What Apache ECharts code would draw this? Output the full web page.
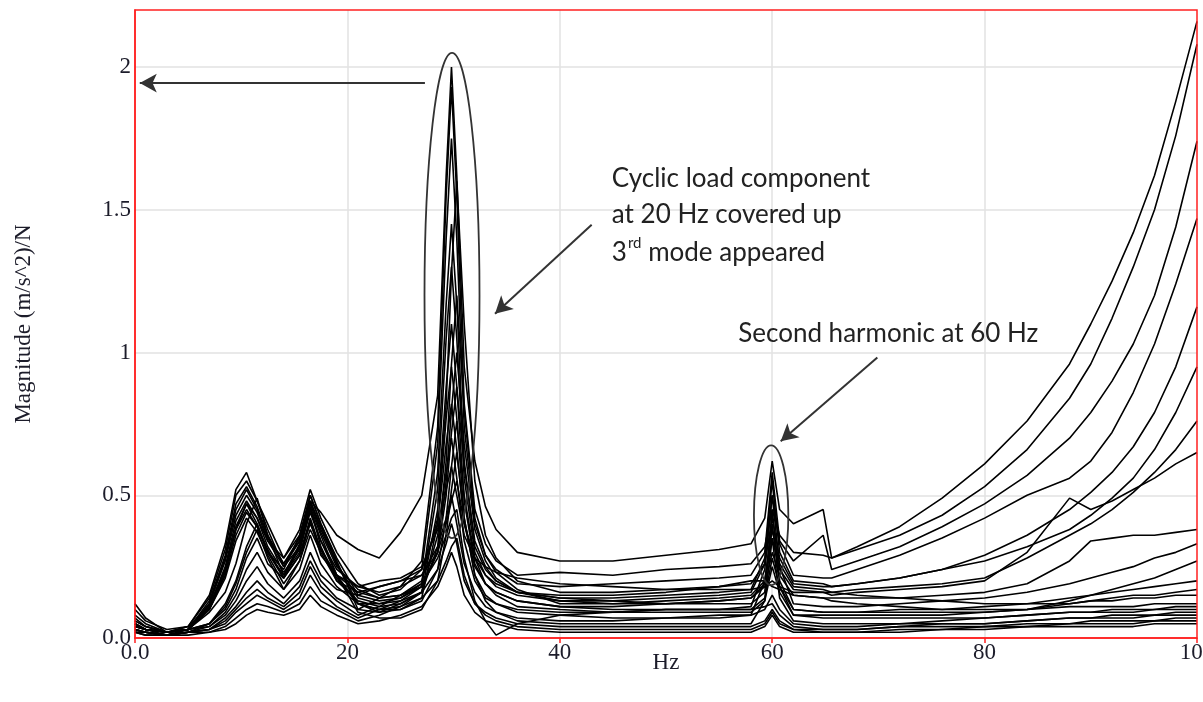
<!DOCTYPE html>
<html>
<head>
<meta charset="utf-8">
<script src="https://cdn.jsdelivr.net/npm/echarts@6/dist/echarts.min.js"></script>
<style>html,body{margin:0;padding:0;background:#fff}#c{width:1203px;height:702px}</style>
</head>
<body>
<div id="c"></div>
<script>
// Frequency grid (Hz) shared by all response curves
const freqHz = [0,1,3,5,7, 8.5,9.5,10.5,11.5,12.5, 14,15.5,16.5,17.5,19, 21,23,25,27,28.5, 29.3,29.8,30.3,31,32, 33,34,36,40,45, 50,55,58,59.3,60, 60.7,62,64.8,65.6,68, 72,76,80,84,88, 90,92,94,96,98, 100];

// Magnitude values (m/s^2)/N, one array per measured curve
const c1  = [0.10,0.06,0.03,0.04,0.11, 0.24,0.38,0.47,0.42,0.34, 0.28,0.36,0.48,0.44,0.36, 0.31,0.28,0.37,0.50,0.85, 1.62,2.00,1.62,0.95,0.62, 0.46,0.38,0.30,0.27,0.27, 0.29,0.31,0.33,0.42,0.62, 0.45,0.40,0.45,0.28,0.31, 0.36,0.43,0.53,0.66,0.84, 0.96,1.12,1.30,1.50,1.76, 2.08];
const c2  = [0.12,0.07,0.02,0.04,0.15, 0.33,0.52,0.58,0.48,0.38, 0.25,0.32,0.45,0.34,0.24, 0.18,0.16,0.18,0.27,0.74, 1.55,1.93,1.55,0.82,0.45, 0.33,0.27,0.22,0.23,0.22, 0.24,0.25,0.26,0.32,0.45, 0.36,0.30,0.29,0.28,0.32, 0.39,0.49,0.61,0.76,0.96, 1.10,1.25,1.42,1.62,1.88, 2.16];
const c3  = [0.08,0.05,0.02,0.04,0.14, 0.31,0.50,0.55,0.48,0.40, 0.28,0.38,0.52,0.42,0.30, 0.19,0.15,0.17,0.24,0.68, 1.40,1.75,1.40,0.74,0.40, 0.29,0.24,0.19,0.18,0.19, 0.20,0.21,0.22,0.30,0.58, 0.34,0.27,0.36,0.24,0.27, 0.32,0.39,0.47,0.57,0.70, 0.79,0.90,1.03,1.20,1.44, 1.74];
const c4  = [0.06,0.04,0.02,0.03,0.13, 0.29,0.47,0.53,0.46,0.36, 0.26,0.34,0.47,0.37,0.25, 0.17,0.14,0.15,0.20,0.42, 0.82,1.28,1.60,1.10,0.55, 0.36,0.28,0.20,0.16,0.16, 0.17,0.18,0.19,0.26,0.50, 0.33,0.22,0.21,0.21,0.24, 0.29,0.35,0.42,0.50,0.56, 0.62,0.72,0.86,1.03,1.24, 1.47];
const c5  = [0.05,0.03,0.02,0.03,0.12, 0.28,0.45,0.52,0.45,0.35, 0.26,0.35,0.50,0.40,0.28, 0.15,0.13,0.14,0.19,0.58, 1.17,1.45,1.17,0.62,0.32, 0.24,0.20,0.16,0.14,0.14, 0.15,0.16,0.17,0.28,0.55, 0.30,0.20,0.19,0.18,0.19, 0.21,0.24,0.29,0.36,0.45, 0.51,0.58,0.67,0.79,0.95, 1.16];
const c6  = [0.04,0.03,0.01,0.03,0.12, 0.27,0.43,0.50,0.44,0.34, 0.25,0.34,0.48,0.39,0.26, 0.14,0.12,0.13,0.18,0.52, 1.05,1.30,1.05,0.56,0.30, 0.22,0.18,0.15,0.13,0.13, 0.14,0.15,0.16,0.26,0.42, 0.28,0.19,0.18,0.18,0.19, 0.21,0.24,0.27,0.32,0.38, 0.43,0.49,0.56,0.66,0.79, 0.95];
const c7  = [0.05,0.03,0.02,0.03,0.09, 0.16,0.26,0.40,0.49,0.36, 0.22,0.30,0.46,0.32,0.20, 0.13,0.11,0.12,0.16,0.32, 0.62,0.96,1.20,0.80,0.42, 0.29,0.23,0.17,0.12,0.12, 0.13,0.14,0.15,0.20,0.38, 0.26,0.18,0.17,0.16,0.17, 0.18,0.19,0.21,0.28,0.36, 0.40,0.45,0.51,0.58,0.66, 0.76];
const c8  = [0.07,0.04,0.02,0.03,0.11, 0.25,0.41,0.48,0.42,0.32, 0.23,0.31,0.44,0.34,0.22, 0.12,0.10,0.11,0.16,0.45, 0.88,1.10,0.88,0.48,0.26, 0.19,0.16,0.13,0.11,0.11, 0.12,0.13,0.14,0.19,0.35, 0.24,0.17,0.16,0.15,0.16, 0.17,0.18,0.20,0.30,0.49, 0.45,0.48,0.52,0.56,0.61, 0.65];
const c9  = [0.04,0.03,0.02,0.03,0.11, 0.24,0.39,0.47,0.40,0.30, 0.21,0.29,0.42,0.31,0.21, 0.12,0.12,0.14,0.18,0.30, 0.55,0.80,1.00,0.68,0.38, 0.27,0.21,0.16,0.13,0.12, 0.12,0.13,0.14,0.18,0.30, 0.22,0.15,0.14,0.14,0.14, 0.14,0.15,0.16,0.19,0.27, 0.34,0.35,0.36,0.36,0.37, 0.38];
const c10 = [0.03,0.02,0.01,0.03,0.10, 0.23,0.38,0.45,0.39,0.30, 0.24,0.36,0.50,0.40,0.27, 0.10,0.09,0.10,0.14,0.40, 0.77,0.95,0.77,0.42,0.22, 0.15,0.12,0.10,0.09,0.09, 0.10,0.10,0.11,0.24,0.50, 0.25,0.12,0.11,0.11,0.11, 0.12,0.13,0.14,0.16,0.19, 0.21,0.23,0.25,0.28,0.30, 0.33];
const c11 = [0.05,0.03,0.02,0.03,0.10, 0.22,0.36,0.44,0.39,0.31, 0.21,0.29,0.40,0.31,0.22, 0.16,0.14,0.15,0.18,0.30, 0.50,0.72,0.88,0.60,0.34, 0.25,0.20,0.16,0.14,0.13, 0.12,0.12,0.12,0.16,0.45, 0.20,0.10,0.09,0.09,0.09, 0.09,0.09,0.09,0.10,0.13, 0.15,0.17,0.19,0.21,0.24, 0.27];
const c12 = [0.06,0.04,0.02,0.03,0.10, 0.21,0.34,0.42,0.37,0.29, 0.19,0.27,0.38,0.30,0.20, 0.16,0.18,0.20,0.24,0.40, 0.68,0.82,0.66,0.40,0.25, 0.19,0.16,0.13,0.11,0.10, 0.10,0.10,0.10,0.14,0.28, 0.18,0.10,0.09,0.09,0.09, 0.10,0.10,0.11,0.12,0.14, 0.15,0.16,0.17,0.18,0.19, 0.20];
const c13 = [0.03,0.02,0.01,0.02,0.05, 0.12,0.20,0.32,0.40,0.30, 0.22,0.33,0.48,0.38,0.26, 0.12,0.10,0.10,0.13,0.24, 0.42,0.60,0.76,0.50,0.28, 0.19,0.15,0.11,0.10,0.09, 0.09,0.09,0.09,0.13,0.25, 0.16,0.08,0.08,0.08,0.08, 0.08,0.08,0.09,0.10,0.12, 0.13,0.14,0.15,0.15,0.16, 0.17];
const c14 = [0.04,0.03,0.02,0.03,0.05, 0.11,0.19,0.30,0.38,0.28, 0.17,0.24,0.36,0.26,0.18, 0.12,0.09,0.12,0.16,0.36, 0.58,0.70,0.56,0.34,0.20, 0.14,0.12,0.09,0.08,0.07, 0.07,0.07,0.08,0.20,0.40, 0.18,0.08,0.07,0.07,0.07, 0.07,0.07,0.07,0.08,0.09, 0.09,0.10,0.10,0.10,0.11, 0.11];
const c15 = [0.05,0.03,0.02,0.03,0.05, 0.10,0.17,0.28,0.35,0.26, 0.21,0.32,0.46,0.36,0.22, 0.09,0.07,0.07,0.10,0.20, 0.36,0.52,0.65,0.42,0.22, 0.13,0.09,0.06,0.05,0.05, 0.05,0.05,0.05,0.13,0.35, 0.14,0.06,0.05,0.05,0.05, 0.05,0.05,0.05,0.06,0.07, 0.07,0.08,0.08,0.08,0.09, 0.09];
const c16 = [0.02,0.02,0.01,0.02,0.04, 0.09,0.15,0.24,0.30,0.23, 0.17,0.27,0.41,0.29,0.22, 0.18,0.20,0.21,0.25,0.38, 0.52,0.60,0.50,0.36,0.28, 0.25,0.23,0.21,0.19,0.18, 0.17,0.17,0.17,0.18,0.20, 0.18,0.16,0.16,0.16,0.15, 0.14,0.13,0.12,0.12,0.12, 0.13,0.13,0.14,0.14,0.15, 0.15];
const c17 = [0.04,0.03,0.02,0.03,0.04, 0.08,0.13,0.20,0.25,0.19, 0.14,0.20,0.30,0.22,0.17, 0.15,0.18,0.20,0.22,0.30, 0.40,0.48,0.55,0.40,0.28, 0.22,0.19,0.16,0.15,0.15, 0.16,0.18,0.20,0.20,0.18, 0.17,0.15,0.14,0.13,0.12, 0.11,0.10,0.10,0.10,0.11, 0.11,0.11,0.11,0.12,0.12, 0.12];
const c18 = [0.03,0.02,0.01,0.02,0.03, 0.07,0.11,0.16,0.20,0.16, 0.12,0.18,0.27,0.20,0.14, 0.10,0.14,0.18,0.22,0.32, 0.42,0.50,0.40,0.26,0.16, 0.11,0.09,0.07,0.06,0.06, 0.07,0.08,0.08,0.10,0.15, 0.10,0.05,0.04,0.04,0.04, 0.05,0.06,0.07,0.08,0.09, 0.09,0.09,0.09,0.10,0.10, 0.10];
const c19 = [0.03,0.02,0.01,0.02,0.03, 0.06,0.10,0.14,0.17,0.14, 0.11,0.16,0.25,0.18,0.13, 0.08,0.11,0.15,0.19,0.28, 0.36,0.42,0.45,0.28,0.13, 0.06,0.01,0.05,0.08,0.09, 0.10,0.10,0.10,0.11,0.12, 0.08,0.04,0.03,0.03,0.03, 0.04,0.05,0.05,0.06,0.07, 0.07,0.07,0.07,0.08,0.08, 0.08];
const c20 = [0.02,0.02,0.01,0.02,0.03, 0.05,0.09,0.12,0.15,0.13, 0.10,0.14,0.22,0.16,0.11, 0.07,0.10,0.13,0.16,0.24, 0.33,0.40,0.33,0.20,0.12, 0.09,0.07,0.05,0.04,0.04, 0.04,0.04,0.04,0.06,0.10, 0.06,0.03,0.03,0.03,0.03, 0.04,0.04,0.04,0.05,0.05, 0.06,0.06,0.06,0.06,0.07, 0.07];
const c21 = [0.02,0.01,0.01,0.02,0.02, 0.04,0.07,0.10,0.12,0.11, 0.09,0.12,0.18,0.13,0.10, 0.06,0.08,0.11,0.14,0.20, 0.27,0.32,0.35,0.22,0.12, 0.08,0.06,0.04,0.03,0.03, 0.03,0.03,0.03,0.05,0.09, 0.05,0.03,0.02,0.02,0.02, 0.03,0.03,0.04,0.04,0.05, 0.05,0.05,0.05,0.06,0.06, 0.06];
const c22 = [0.02,0.01,0.01,0.01,0.02, 0.03,0.05,0.08,0.10,0.09, 0.08,0.10,0.15,0.11,0.08, 0.05,0.06,0.08,0.11,0.18, 0.25,0.30,0.25,0.15,0.09, 0.06,0.05,0.03,0.02,0.02, 0.02,0.02,0.02,0.04,0.08, 0.04,0.02,0.02,0.02,0.02, 0.02,0.03,0.03,0.04,0.04, 0.04,0.04,0.04,0.05,0.05, 0.05];

const curves = [c1,c2,c3,c4,c5,c6,c7,c8,c9,c10,c11,c12,c13,c14,c15,c16,c17,c18,c19,c20,c21,c22];

// Axis tick labels
const xTickLabels = {0:'0.0', 20:'20', 40:'40', 60:'60', 80:'80', 100:'100'};
const yTickLabels = {0:'0.0', 0.5:'0.5', 1:'1', 1.5:'1.5', 2:'2'};

// Annotations in data coordinates: arrows [fromHz, fromMag, toHz, toMag]
const arrows = [[27.3,1.944,0.45,1.944],[43.0,1.448,33.9,1.136],[69.9,0.983,60.8,0.689]];
// Ellipses [centerHz, centerMag, radiusHz, radiusMag]
const ellipses = [[29.85,1.20,2.59,0.85],[59.9,0.43,1.62,0.245]];
// Note anchors [Hz, Mag] (left edge, first line middle)
const note1Pos = [44.9, 1.608];
const note2Pos = [56.8, 1.066];

const chart = echarts.init(document.getElementById('c'), null, {renderer:'canvas'});

const series = curves.map((vals, i) => ({
  type: 'line',
  data: freqHz.map((f, j) => [f, vals[j]]),
  symbol: 'none',
  showSymbol: false,
  silent: true,
  animation: false,
  lineStyle: {color: '#000', width: 1.6},
  z: 3,
  markLine: i === 0 ? {
    silent: true,
    animation: false,
    symbol: ['none', 'arrow'],
    symbolSize: [14, 17],
    lineStyle: {color: '#333', width: 2, type: 'solid'},
    label: {show: false},
    data: arrows.map(a => [{coord: [a[0], a[1]]}, {coord: [a[2], a[3]]}])
  } : undefined
}));

const axisFont = 'Liberation Serif';

chart.setOption({
  animation: false,
  backgroundColor: '#fff',
  grid: {left: 135, right: 6, top: 10, bottom: 64, show: false, containLabel: false, outerBoundsMode: 'none'},
  xAxis: {
    type: 'value', min: 0, max: 100, interval: 20,
    name: 'Hz', nameLocation: 'middle', nameGap: 13, nameMoveOverlap: false,
    nameTextStyle: {fontFamily: axisFont, fontSize: 23, color: '#1c1c2a'},
    axisLine: {show: true, lineStyle: {color: '#ff2020', width: 1.5}},
    axisTick: {show: true, length: 5, lineStyle: {color: '#ff2020', width: 1.5}},
    axisLabel: {margin: 3, fontFamily: axisFont, fontSize: 23, color: '#1c1c2a', hideOverlap: false,
      formatter: v => (xTickLabels[v] !== undefined ? xTickLabels[v] : '')},
    splitLine: {show: true, showMinLine: false, showMaxLine: false, lineStyle: {color: '#e2e2e2', width: 1.5}}
  },
  yAxis: {
    type: 'value', min: 0, max: 2.2, interval: 0.5,
    name: 'Magnitude (m/s^2)/N', nameLocation: 'middle', nameGap: 100, nameMoveOverlap: false,
    nameTextStyle: {fontFamily: axisFont, fontSize: 23, color: '#1c1c2a'},
    axisLine: {show: true, lineStyle: {color: '#ff2020', width: 1.5}},
    axisTick: {show: false},
    axisLabel: {margin: 4, fontFamily: axisFont, fontSize: 23, color: '#1c1c2a',
      formatter: v => (yTickLabels[v] !== undefined ? yTickLabels[v] : '')},
    splitLine: {show: true, showMinLine: false, showMaxLine: false, lineStyle: {color: '#e2e2e2', width: 1.5}}
  },
  series: series
});

function px(x, y) { return chart.convertToPixel({xAxisIndex: 0, yAxisIndex: 0}, [x, y]); }

const graphics = [];
const tl = px(0, 2.2), br = px(100, 0);
graphics.push({type: 'rect', silent: true, z: 100,
  shape: {x: tl[0], y: tl[1], width: br[0] - tl[0], height: br[1] - tl[1]},
  style: {fill: null, stroke: '#ff2020', lineWidth: 1.5}});
ellipses.forEach(e => {
  const c = px(e[0], e[1]);
  const rx = px(e[0] + e[2], e[1])[0] - c[0];
  const ry = c[1] - px(e[0], e[1] + e[3])[1];
  graphics.push({type: 'ellipse', silent: true, z: 50,
    shape: {cx: c[0], cy: c[1], rx: rx, ry: ry},
    style: {fill: null, stroke: '#333', lineWidth: 1.8}});
});
const noteFont = 'Lato';
const noteSize = 26;
const lineGap = 36;
const p1 = px(note1Pos[0], note1Pos[1]);
['Cyclic load component', 'at 20 Hz covered up'].forEach((t, i) => {
  graphics.push({type: 'text', silent: true, z: 60,
    style: {text: t, x: p1[0], y: p1[1] + i * lineGap, fill: '#222',
      font: noteSize + 'px ' + noteFont, textVerticalAlign: 'middle'}});
});
graphics.push({type: 'text', silent: true, z: 60,
  style: {text: '{n|3}{s|rd}{n| mode appeared}', x: p1[0], y: p1[1] + 2 * lineGap, fill: '#222',
    textVerticalAlign: 'middle',
    rich: {
      n: {fontFamily: noteFont, fontSize: noteSize, color: '#222', lineHeight: 30, verticalAlign: 'bottom'},
      s: {fontFamily: noteFont, fontSize: 15, color: '#222', lineHeight: 30, verticalAlign: 'top', padding: [0, 0, 0, 1]}
    }}});
const p2 = px(note2Pos[0], note2Pos[1]);
graphics.push({type: 'text', silent: true, z: 60,
  style: {text: 'Second harmonic at 60 Hz', x: p2[0], y: p2[1], fill: '#222',
    font: noteSize + 'px ' + noteFont, textVerticalAlign: 'middle'}});

chart.setOption({graphic: graphics});
</script>
</body>
</html>
